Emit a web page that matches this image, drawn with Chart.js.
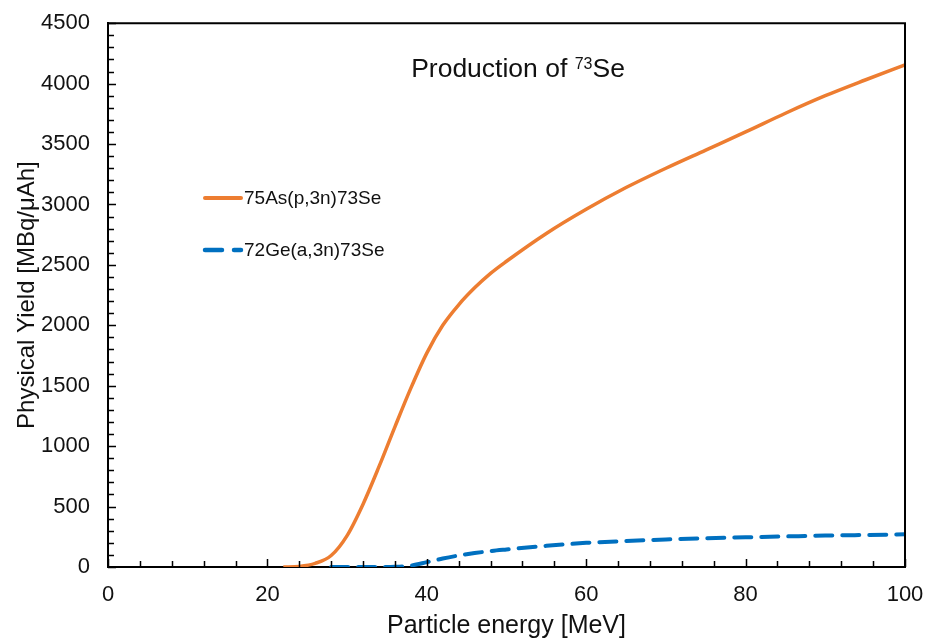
<!DOCTYPE html>
<html>
<head>
<meta charset="utf-8">
<title>Production of 73Se</title>
<script src="https://cdn.jsdelivr.net/npm/chart.js@4.4.1/dist/chart.umd.min.js"></script>
<style>
  html, body { margin:0; padding:0; background:#fff; }
  #wrap { width:937px; height:643px; }
</style>
</head>
<body>
<div id="wrap"><canvas id="yieldChart" width="937" height="643"></canvas></div>
<script>
/* ---------- data ---------- */
const asEnergy = [22, 24, 26, 28, 30, 32, 34, 36, 38, 40, 42, 44, 46, 48, 50, 55, 60, 65, 70, 75, 80, 85, 90, 95, 100];
const asYield  = [0, 5, 30, 95, 260, 520, 830, 1160, 1480, 1770, 2000, 2170, 2310, 2430, 2530, 2760, 2960, 3140, 3300, 3450, 3600, 3755, 3900, 4030, 4155];

const geEnergy = [28, 30, 32, 34, 36, 38, 40, 42, 44, 46, 48, 50, 55, 60, 65, 70, 75, 80, 85, 90, 95, 100];
const geYield  = [0, 0, 0, 0, 2, 12, 40, 70, 95, 115, 132, 145, 175, 200, 215, 228, 238, 246, 253, 260, 265, 270];

const seriesLabels = ["75As(p,3n)73Se", "72Ge(a,3n)73Se"];
const xTicks = [0, 20, 40, 60, 80, 100];
const yTicks = [0, 500, 1000, 1500, 2000, 2500, 3000, 3500, 4000, 4500];

const FONT = "'Liberation Sans', Arial, sans-serif";
const ORANGE = "#ED7D31";
const BLUE = "#0070C0";

function toPoints(xs, ys){ return xs.map((x, i) => ({ x: x, y: ys[i] })); }

/* ---------- custom drawing: box, inward ticks, title, legend ---------- */
const decorPlugin = {
  id: "decor",
  afterDraw(chart){
    const ctx = chart.ctx;
    const a = chart.chartArea;
    const xs = chart.scales.x, ys = chart.scales.y;
    ctx.save();
    ctx.strokeStyle = "#000";
    ctx.lineWidth = 2;
    // top + right frame
    ctx.beginPath();
    ctx.moveTo(a.left, a.top); ctx.lineTo(a.right, a.top); ctx.lineTo(a.right, a.bottom);
    ctx.stroke();
    // inward ticks
    ctx.lineWidth = 1.5;
    ctx.beginPath();
    for(let v = 0; v <= 4500; v += 100){
      const py = Math.round(ys.getPixelForValue(v)) + 0.5;
      const len = v % 500 === 0 ? 8 : 6;
      ctx.moveTo(a.left, py); ctx.lineTo(a.left + len, py);
    }
    for(let v = 0; v <= 100; v += 4){
      const px = Math.round(xs.getPixelForValue(v)) + 0.5;
      const len = v % 20 === 0 ? 8 : 6;
      ctx.moveTo(px, a.bottom); ctx.lineTo(px, a.bottom - len);
    }
    ctx.stroke();

    // title with superscript
    ctx.fillStyle = "#111";
    ctx.textBaseline = "alphabetic";
    const base = 77;
    ctx.font = "26.5px " + FONT;
    const p1 = "Production of ", p3 = "Se";
    const w1 = ctx.measureText(p1).width, w3 = ctx.measureText(p3).width;
    ctx.font = "16px " + FONT;
    const w2 = ctx.measureText("73").width;
    let tx = 518 - (w1 + w2 + w3) / 2;
    ctx.font = "26.5px " + FONT; ctx.fillText(p1, tx, base); tx += w1;
    ctx.font = "16px " + FONT; ctx.fillText("73", tx, base - 8); tx += w2;
    ctx.font = "26.5px " + FONT; ctx.fillText(p3, tx, base);

    // legend inside the plot
    const rows = [
      { y: 198, color: ORANGE, dash: [], width: 4, label: seriesLabels[0] },
      { y: 250, color: BLUE, dash: [17, 12], width: 4.5, label: seriesLabels[1] }
    ];
    ctx.font = "19px " + FONT;
    ctx.textBaseline = "middle";
    rows.forEach(r => {
      ctx.beginPath();
      ctx.setLineDash(r.dash);
      ctx.lineCap = "round";
      ctx.strokeStyle = r.color;
      ctx.lineWidth = r.width;
      ctx.moveTo(205, r.y); ctx.lineTo(241, r.y);
      ctx.stroke();
      ctx.setLineDash([]);
      ctx.fillStyle = "#111";
      ctx.fillText(r.label, 244, r.y + 1);
    });
    ctx.restore();
  }
};

/* ---------- chart ---------- */
const chart = new Chart(document.getElementById("yieldChart"), {
  type: "line",
  data: {
    datasets: [
      { label: seriesLabels[0], data: toPoints(asEnergy, asYield), borderColor: ORANGE, borderWidth: 3.5,
        pointRadius: 0, cubicInterpolationMode: "monotone", fill: false },
      { label: seriesLabels[1], data: toPoints(geEnergy, geYield), borderColor: BLUE, borderWidth: 4,
        borderDash: [17, 10], borderCapStyle: "round", pointRadius: 0, cubicInterpolationMode: "monotone", fill: false }
    ]
  },
  options: {
    responsive: false,
    animation: false,
    layout: { padding: { top: 20, right: 32, left: 0, bottom: 0 } },
    plugins: { legend: { display: false }, tooltip: { enabled: false } },
    scales: {
      x: {
        type: "linear", min: 0, max: 100,
        afterFit: s => { s.height = 76; },
        afterBuildTicks: s => { s.ticks = xTicks.map(v => ({ value: v })); },
        grid: { display: false },
        border: { display: true, color: "#000", width: 2 },
        ticks: { color: "#111", padding: 7, font: { family: FONT, size: 22 }, callback: v => String(v) },
        title: { display: true, text: "Particle energy [MeV]", color: "#111",
                 padding: { top: 0, bottom: 2 }, font: { family: FONT, size: 25 } }
      },
      y: {
        type: "linear", min: 0, max: 4500,
        afterFit: s => { s.width = 108; },
        afterBuildTicks: s => { s.ticks = yTicks.map(v => ({ value: v })); },
        grid: { display: false },
        border: { display: true, color: "#000", width: 2 },
        ticks: { color: "#111", padding: 10, font: { family: FONT, size: 22 }, callback: v => String(v) },
        title: { display: true, text: "Physical Yield [MBq/\u03bcAh]", color: "#111",
                 padding: { top: 13, bottom: 0 }, font: { family: FONT, size: 24 } }
      }
    }
  },
  plugins: [decorPlugin]
});
</script>
</body>
</html>
